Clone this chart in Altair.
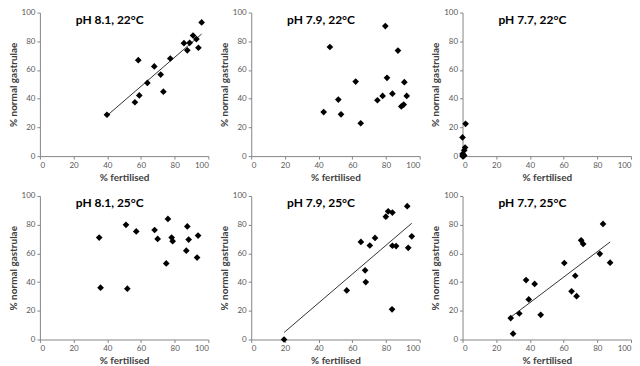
import altair as alt
import pandas as pd

FONT = "Lato"

# pH 8.1, 22°C
p81_22_x = [39.8, 56.4, 58.4, 59.0, 63.8, 67.9, 71.7, 73.3, 77.4, 85.5, 87.5, 88.9, 90.9, 92.9, 94.1, 96.0]
p81_22_y = [28.8, 37.5, 66.8, 42.3, 51.0, 62.5, 56.8, 44.9, 68.0, 78.7, 73.7, 78.9, 84.0, 81.5, 75.5, 93.1]

# pH 7.9, 22°C
p79_22_x = [43.0, 46.7, 51.7, 53.3, 62.0, 65.0, 74.9, 78.0, 79.6, 80.6, 83.8, 87.1, 89.1, 90.5, 90.9, 92.3]
p79_22_y = [30.7, 76.0, 39.4, 29.1, 51.9, 22.9, 38.9, 41.9, 90.6, 54.5, 43.5, 73.5, 34.6, 35.9, 51.5, 41.9]

# pH 7.7, 22°C
p77_22_x = [1.8, 0.0, 1.5, 1.0, 0.0, 0.5, 0.0, 1.0]
p77_22_y = [22.5, 13.0, 6.0, 4.0, 1.5, 0.0, 0.0, 0.5]

# pH 8.1, 25°C
p81_25_x = [35.2, 36.0, 51.1, 51.9, 57.2, 68.1, 69.9, 75.0, 76.0, 78.2, 78.8, 86.9, 87.5, 88.3, 93.3, 93.9]
p81_25_y = [71.0, 36.1, 79.9, 35.4, 75.3, 76.3, 70.1, 53.0, 84.0, 71.0, 68.5, 61.9, 78.8, 69.6, 57.1, 72.4]

# pH 7.9, 25°C
p79_25_x = [19.5, 56.7, 65.1, 67.6, 68.0, 70.4, 73.5, 79.9, 81.3, 83.8, 83.8, 83.6, 86.0, 92.6, 93.2, 95.3]
p79_25_y = [0.0, 34.2, 68.0, 48.2, 40.0, 65.5, 70.8, 85.6, 89.3, 88.4, 65.3, 21.0, 65.1, 92.9, 63.9, 71.9]

# pH 7.7, 25°C
p77_25_x = [28.6, 30.0, 33.7, 37.7, 39.3, 42.8, 46.4, 60.4, 64.7, 66.9, 67.7, 70.4, 71.6, 81.5, 83.4, 87.6]
p77_25_y = [14.9, 4.1, 18.1, 41.4, 27.9, 38.7, 17.2, 53.3, 33.6, 44.4, 30.2, 69.1, 66.6, 59.7, 80.5, 53.5]

TICKS = [0, 20, 40, 60, 80, 100]
W, H = 169, 144


def encs():
    xenc = alt.X("x:Q", scale=alt.Scale(domain=[0, 100], nice=False),
                 axis=alt.Axis(values=TICKS, title="% fertilised", labelOverlap=False))
    yenc = alt.Y("y:Q", scale=alt.Scale(domain=[0, 100], nice=False),
                 axis=alt.Axis(values=TICKS, title="% normal gastrulae", labelOverlap=False))
    return xenc, yenc


def panel(title, xs, ys, fit):
    df = pd.DataFrame({"x": xs, "y": ys})
    base = alt.Chart(df)
    xenc, yenc = encs()
    pts = base.mark_point(shape="diamond", filled=True, color="black",
                          size=45, opacity=1).encode(x=xenc, y=yenc)
    layers = [pts]
    if fit:
        xenc2, yenc2 = encs()
        line = base.transform_regression("x", "y").mark_line(
            color="black", strokeWidth=0.8).encode(x=xenc2, y=yenc2)
        layers.append(line)
    ttl = alt.Chart(pd.DataFrame({"t": [title]})).mark_text(
        align="left", baseline="middle", font=FONT, fontSize=12,
        fontWeight="bold", color="black").encode(
        text="t:N", x=alt.value(36), y=alt.value(7))
    layers.append(ttl)
    return alt.layer(*layers).properties(width=W, height=H)


row1 = alt.hconcat(
    panel("pH 8.1, 22°C", p81_22_x, p81_22_y, True),
    panel("pH 7.9, 22°C", p79_22_x, p79_22_y, False),
    panel("pH 7.7, 22°C", p77_22_x, p77_22_y, False),
    spacing=10,
)
row2 = alt.hconcat(
    panel("pH 8.1, 25°C", p81_25_x, p81_25_y, False),
    panel("pH 7.9, 25°C", p79_25_x, p79_25_y, True),
    panel("pH 7.7, 25°C", p77_25_x, p77_25_y, True),
    spacing=10,
)

chart = alt.vconcat(row1, row2, spacing=10).properties(
    padding=0, background="white"
).configure_view(stroke=None).configure_axis(
    grid=False,
    domainColor="#868686",
    tickColor="#868686",
    tickSize=3,
    labelFont=FONT,
    labelFontSize=8,
    labelColor="#595959",
    labelPadding=2,
    titleFont=FONT,
    titleFontSize=10,
    titleFontWeight="bold",
    titleColor="#404040",
    titlePadding=3,
)

chart.save("out.html", embed_options={"renderer": "svg", "actions": False})
